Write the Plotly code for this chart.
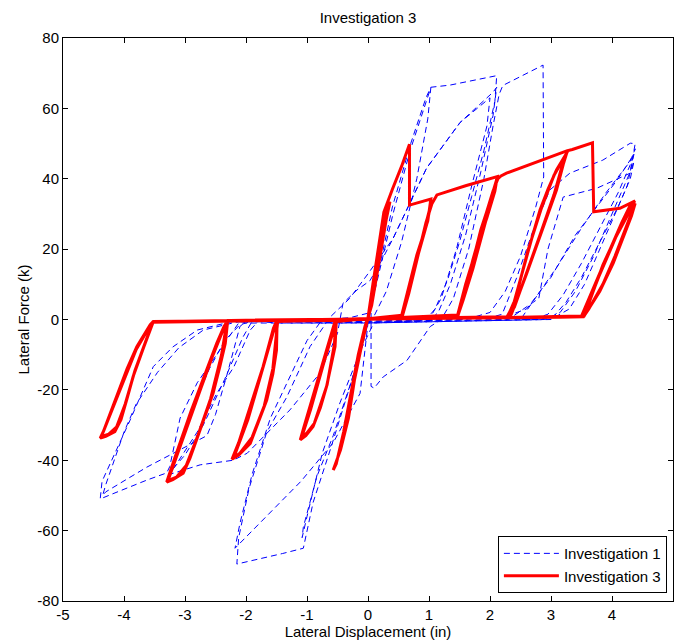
import plotly.graph_objects as go

# ---------------- tick labels ----------------
x_ticks = [-5, -4, -3, -2, -1, 0, 1, 2, 3, 4, 5]
x_tick_labels = ["-5", "-4", "-3", "-2", "-1", "0", "1", "2", "3", "4", "5"]
y_ticks = [-80, -60, -40, -20, 0, 20, 40, 60, 80]
y_tick_labels = ["-80", "-60", "-40", "-20", "0", "20", "40", "60", "80"]

# ---------------- Investigation 3 (red), (displacement, force) ----------------
red_level1 = [
    (0.00, 0.0), (0.10, 12.0), (0.20, 23.0), (0.28, 30.0), (0.36, 33.5),
    (0.30, 28.5), (0.18, 16.0), (0.06, 4.0), (0.00, 0.5),
    (-0.10, -7.0), (-0.22, -17.0), (-0.32, -28.0), (-0.45, -37.0), (-0.57, -42.8),
    (-0.52, -41.0), (-0.40, -32.0), (-0.28, -21.0), (-0.16, -10.0), (-0.05, -2.0), (0.00, 0.5),
]
red_level2 = [
    (0.08, 10.0), (0.18, 22.0), (0.26, 30.5), (0.40, 37.0), (0.55, 43.5), (0.68, 49.8),
    (0.68, 32.5), (1.03, 34.2),
    (0.98, 28.0), (0.80, 18.3), (0.65, 8.0), (0.55, 1.0),
    (0.20, 0.5), (-0.20, 0.0), (-0.54, -0.5),
    (-0.60, -4.0), (-0.73, -11.5), (-0.85, -18.5), (-0.95, -24.8), (-1.05, -30.5), (-1.11, -34.2),
    (-1.02, -33.0), (-0.90, -30.4), (-0.78, -25.0), (-0.68, -19.1), (-0.60, -13.0), (-0.54, -7.7), (-0.52, -0.6),
    (0.00, 0.3), (0.55, 0.9),
    (0.66, 7.0), (0.80, 17.0), (0.93, 26.0), (1.02, 32.0),
    (0.97, 27.5), (0.82, 18.5), (0.66, 8.5), (0.56, 1.2),
    (0.00, 0.2), (-0.53, -0.4),
    (-0.59, -4.5), (-0.72, -12.0), (-0.94, -25.5), (-1.09, -33.6),
    (-1.00, -32.2), (-0.88, -29.5), (-0.67, -18.5), (-0.55, -7.0), (-0.53, -0.6),
    (0.00, 0.3), (0.56, 0.8),
]
red_level3 = [
    (0.67, 7.5), (0.82, 18.0), (0.95, 27.5), (1.05, 33.0), (1.13, 35.4), (1.60, 38.0), (2.12, 40.6),
    (2.08, 36.5), (1.95, 29.0), (1.78, 20.2), (1.60, 10.0), (1.47, 1.3),
    (0.50, 0.5), (-0.50, -0.2), (-1.50, -0.5),
    (-1.55, -2.5), (-1.72, -13.4), (-1.86, -21.0), (-1.99, -27.6), (-2.12, -35.0), (-2.23, -39.7),
    (-2.12, -38.5), (-1.93, -35.2), (-1.80, -29.5), (-1.66, -22.9), (-1.56, -15.5), (-1.50, -8.7), (-1.49, -0.5),
    (0.00, 0.2), (1.46, 0.8),
    (1.55, 5.0), (1.70, 15.5), (1.85, 25.5), (2.00, 33.5), (2.11, 39.8),
    (2.04, 35.0), (1.88, 25.0), (1.72, 14.5), (1.56, 5.5), (1.47, 0.9),
    (0.00, 0.2), (-1.49, -0.6),
    (-1.56, -4.0), (-1.74, -15.0), (-1.97, -28.5), (-2.20, -39.2),
    (-2.10, -38.0), (-1.90, -33.5), (-1.70, -24.5), (-1.56, -14.0), (-1.50, -5.0), (-1.48, -0.5),
    (0.00, 0.3), (1.47, 0.8),
    (1.56, 6.0), (1.72, 17.0), (1.90, 28.0), (2.05, 36.5), (2.13, 40.0),
    (2.18, 40.8), (2.27, 41.6), (2.75, 44.6), (3.27, 48.0),
]
red_level4 = [
    (3.20, 44.0), (3.09, 36.8), (2.95, 30.0), (2.82, 23.5), (2.60, 13.0), (2.35, 1.5), (2.28, 0.7),
    (1.00, 0.4), (0.00, 0.1), (-1.20, -0.3), (-2.30, -0.3),
    (-2.36, -2.0), (-2.48, -6.8), (-2.62, -13.0), (-2.75, -19.1), (-2.90, -26.0), (-3.03, -32.3), (-3.17, -39.5), (-3.30, -46.2),
    (-3.20, -45.5), (-3.03, -43.7), (-2.92, -39.5), (-2.81, -34.2), (-2.67, -27.5), (-2.54, -21.0), (-2.43, -13.5), (-2.34, -6.8), (-2.30, -0.4),
    (0.00, 0.2), (2.28, 0.8),
    (2.38, 4.0), (2.55, 15.0), (2.70, 24.0), (2.82, 31.1), (2.95, 37.0), (3.09, 42.5), (3.26, 47.4),
    (3.18, 43.5), (3.05, 35.5), (2.82, 24.0), (2.58, 12.5), (2.40, 3.5), (2.30, 0.8),
    (0.00, 0.1), (-2.31, -0.4),
    (-2.40, -4.0), (-2.55, -10.5), (-2.75, -20.0), (-2.98, -31.0), (-3.15, -39.5), (-3.28, -45.8),
    (-3.14, -44.8), (-2.98, -41.5), (-2.80, -33.5), (-2.58, -22.5), (-2.40, -10.0), (-2.32, -2.0), (-2.31, -0.4),
    (0.00, 0.1), (2.29, 0.8),
    (2.42, 6.0), (2.62, 19.5), (2.85, 32.0), (3.05, 41.0), (3.28, 48.0),
    (3.35, 48.3), (3.68, 50.2),
    (3.70, 30.6), (4.13, 31.6), (4.38, 33.7),
]
red_level5 = [
    (4.30, 32.5), (4.16, 27.5), (3.87, 16.0), (3.65, 7.0), (3.50, 1.0),
    (2.00, 0.5), (0.00, 0.1), (-2.00, -0.3), (-3.52, -0.6),
    (-3.57, -1.5), (-3.68, -4.5), (-3.79, -7.7), (-3.95, -14.0), (-4.12, -21.9), (-4.25, -28.0), (-4.33, -31.5), (-4.39, -33.7),
    (-4.30, -33.2), (-4.15, -31.9), (-4.05, -28.5),
    (-3.95, -22.5), (-3.85, -16.2), (-3.68, -8.0), (-3.56, -2.0), (-3.52, -0.6),
    (-2.00, -0.2), (0.00, 0.2), (2.00, 0.5), (3.52, 0.7),
    (3.60, 2.5), (3.80, 8.0), (4.02, 16.0), (4.20, 24.0), (4.32, 29.5), (4.38, 33.0),
    (4.28, 31.0), (4.14, 26.5), (3.95, 19.0), (3.78, 12.0), (3.60, 4.0), (3.53, 0.8),
    (0.00, 0.1), (-3.51, -0.6),
    (-3.58, -2.0), (-3.80, -8.5), (-4.10, -21.5), (-4.28, -29.5), (-4.37, -33.2),
    (-4.25, -32.6), (-4.12, -30.5),
    (-3.98, -24.0), (-3.82, -14.5), (-3.65, -6.5), (-3.53, -0.8),
    (0.00, 0.2), (3.53, 0.7),
    (3.62, 3.0), (3.85, 10.0), (4.05, 18.0), (4.22, 25.5), (4.36, 32.0),
    (4.25, 29.5), (4.05, 23.0), (3.85, 15.5), (3.65, 6.0), (3.54, 0.8),
]

# ---------------- Investigation 1 (blue), (displacement, force) ----------------
blue_cycle1 = [
    (0.00, 0.0), (0.20, 15.0), (0.41, 30.0), (0.69, 48.0), (0.96, 62.0), (1.03, 65.9),
    (0.98, 57.0), (0.80, 40.0), (0.55, 22.0), (0.30, 8.0), (0.10, 1.0), (0.00, -1.0),
    (-0.08, -6.7), (-0.30, -19.0), (-0.57, -33.0), (-0.84, -44.7), (-1.06, -59.0), (-1.08, -62.0),
    (-1.00, -56.0), (-0.75, -38.0), (-0.46, -23.7), (-0.18, -11.4), (0.00, 0.7),
    (0.15, 12.0), (0.40, 32.0), (0.70, 50.0), (0.95, 63.0), (1.03, 66.0),
]
blue_cycle2 = [
    (1.34, 66.6), (1.80, 68.2), (2.11, 69.3),
    (2.08, 62.0), (1.90, 48.0), (1.70, 35.0), (1.50, 22.0), (1.30, 11.0), (1.10, 3.0), (0.95, 0.0), (0.50, -0.6), (0.10, -0.8),
    (-0.10, -8.0), (-0.35, -22.0), (-0.60, -36.0), (-0.90, -52.0), (-1.06, -65.0),
    (-1.40, -66.5), (-1.80, -68.0), (-2.15, -69.5),
    (-2.12, -62.0), (-1.95, -48.0), (-1.66, -32.0), (-1.33, -22.0), (-0.95, -7.7), (-0.62, 0.7),
    (-0.30, 6.0), (0.00, 13.0), (0.41, 23.0), (0.96, 43.0), (1.51, 56.0), (2.05, 64.6), (2.11, 66.0),
    (2.05, 58.0), (1.85, 42.0), (1.60, 24.0), (1.35, 10.0), (1.15, 2.0), (1.00, -0.5), (0.40, -0.8), (0.00, -1.0),
    (-0.13, -21.0), (-0.57, -35.0), (-1.10, -46.0), (-1.66, -56.0), (-2.18, -65.0),
    (-2.10, -58.0), (-1.90, -44.0), (-1.60, -28.0), (-1.30, -17.0), (-1.00, -6.0), (-0.75, 0.0), (-0.30, 0.5), (0.05, 2.0),
    (0.05, -19.0), (0.10, -19.5), (0.25, -16.3), (0.64, -11.6), (1.02, -2.0), (1.20, 0.0),
    (1.40, 6.0), (1.65, 20.0), (1.90, 40.0), (2.05, 55.0), (2.15, 64.0), (2.21, 66.5), (2.71, 70.9), (2.87, 72.3),
    (2.88, 40.5),
]
blue_cycle3 = [
    (2.75, 32.0), (2.50, 18.0), (2.25, 8.0), (2.00, 2.0), (1.60, 0.0), (0.50, -0.6), (-0.50, -1.0), (-1.50, -1.0), (-1.80, -0.5),
    (-1.93, -3.0), (-2.20, -13.5), (-2.48, -21.0), (-2.80, -32.0), (-3.10, -40.0), (-3.25, -44.0),
    (-2.75, -41.3), (-2.21, -40.0), (-1.98, -38.0), (-1.60, -31.4), (-1.28, -25.7), (-0.79, -15.3), (-0.50, -3.9),
    (-0.41, 4.6), (-0.18, 8.4), (0.03, 11.0), (0.20, 16.0), (0.41, 23.0), (0.96, 43.0), (1.51, 56.0), (2.00, 63.0),
    (1.95, 55.0), (1.70, 38.0), (1.45, 20.0), (1.20, 6.0), (1.00, 0.0), (1.50, 0.3), (2.00, 0.5),
    (2.20, 1.5), (2.44, 12.0), (2.70, 25.0), (2.98, 36.8), (3.31, 41.6), (3.85, 45.3), (4.30, 50.1), (4.38, 50.0),
    (4.30, 42.0), (4.00, 30.0), (3.70, 18.0), (3.40, 8.0), (3.15, 2.0), (2.90, 0.0), (1.50, -0.5), (0.00, -1.0), (-2.00, -1.0), (-2.10, -0.5),
    (-2.43, -8.7), (-2.80, -18.0), (-3.08, -28.0), (-3.25, -41.8), (-3.30, -43.6),
    (-3.62, -45.6), (-4.18, -49.5), (-4.39, -51.0),
    (-4.36, -46.0), (-4.10, -36.0), (-3.90, -28.6), (-3.52, -13.4), (-3.20, -7.8), (-2.80, -3.0), (-2.26, -0.7),
]
blue_cycle4 = [
    (0.00, -0.5), (2.20, 0.5), (2.60, 3.0), (3.00, 12.0), (3.40, 24.0), (3.80, 33.0), (4.10, 40.0), (4.36, 47.0),
    (4.25, 38.0), (3.90, 24.0), (3.55, 10.0), (3.30, 3.0), (3.00, 0.0), (0.00, -1.0), (-2.00, -0.5),
    (-2.10, -2.0), (-2.30, -15.0), (-2.50, -27.0), (-2.64, -33.0), (-3.08, -37.0), (-3.63, -42.0), (-4.30, -49.0), (-4.35, -50.0),
    (-4.30, -47.0), (-4.00, -32.0), (-3.80, -24.0), (-3.45, -15.0), (-3.10, -8.0), (-2.70, -3.0), (-2.10, -0.5),
    (0.00, -0.5), (2.30, 0.0), (2.80, 6.0), (2.95, 20.0), (3.20, 34.8), (3.75, 37.3), (4.30, 41.6), (4.36, 45.0),
    (4.30, 40.0), (4.10, 32.0), (3.80, 22.0), (3.50, 12.0), (3.25, 5.0), (3.05, 1.0), (2.80, 0.0),
]
blue_cycle5 = [
    (2.50, 0.0), (2.70, 5.0), (3.10, 15.0), (3.50, 26.0), (3.90, 36.0), (4.30, 45.0), (4.38, 48.5),
    (4.30, 44.0), (4.10, 36.0), (3.80, 26.0), (3.50, 16.0), (3.20, 7.0), (2.95, 1.5), (2.70, 0.0),
    (0.00, -0.8), (-1.90, -0.5),
    (-2.05, -5.0), (-2.35, -17.0), (-2.70, -30.0), (-3.00, -38.5), (-3.20, -42.5),
    (-3.10, -36.0), (-2.85, -24.0), (-2.60, -14.0), (-2.35, -6.0), (-2.10, -1.5), (-1.90, -0.5),
]

red_pts = red_level1 + red_level2 + red_level3 + red_level4 + red_level5
blue_pts = blue_cycle1 + blue_cycle2 + blue_cycle3 + blue_cycle4 + blue_cycle5

FONT = "Liberation Sans, Arial, Helvetica, sans-serif"
FS = 15

fig = go.Figure()
fig.add_trace(go.Scatter(
    x=[p[0] for p in blue_pts], y=[p[1] for p in blue_pts],
    mode="lines", name="Investigation 1",
    line=dict(color="#0000ff", width=1, dash="6px,4px"),
))
fig.add_trace(go.Scatter(
    x=[p[0] for p in red_pts], y=[p[1] for p in red_pts],
    mode="lines", name="Investigation 3",
    line=dict(color="#ff0000", width=3),
))

axis_common = dict(
    showgrid=False, zeroline=False, showline=True, linecolor="black", linewidth=1,
    mirror="ticks", ticks="inside", ticklen=5, tickcolor="black", automargin=False,
    tickfont=dict(family=FONT, size=FS, color="black"),
)
fig.update_layout(
    width=675, height=643,
    margin=dict(l=63, r=2, t=38, b=42),
    paper_bgcolor="white", plot_bgcolor="white",
    font=dict(family=FONT, size=FS, color="black"),
    title=dict(text="Investigation 3", xref="paper", x=0.5, xanchor="center",
               yref="container", y=0.972, yanchor="middle",
               font=dict(family=FONT, size=FS, color="black")),
    xaxis=dict(range=[-5, 5], tickvals=x_ticks, ticktext=x_tick_labels,
               title=dict(text="Lateral Displacement (in)", standoff=4,
                          font=dict(family=FONT, size=FS, color="black")),
               **axis_common),
    yaxis=dict(range=[-80, 80], tickvals=y_ticks, ticktext=y_tick_labels,
               title=dict(text="Lateral Force (k)", standoff=4,
                          font=dict(family=FONT, size=FS, color="black")),
               **axis_common),
    showlegend=True,
    legend=dict(x=0.990, y=0.014, xanchor="right", yanchor="bottom",
                bgcolor="white", bordercolor="black", borderwidth=1,
                font=dict(family=FONT, size=FS, color="black"),
                itemwidth=55, tracegroupgap=0),
)

fig.write_html(
    "out.html",
    config={"displayModeBar": False},
    post_script="document.body.style.margin='0px'; document.body.style.overflow='hidden';",
)
